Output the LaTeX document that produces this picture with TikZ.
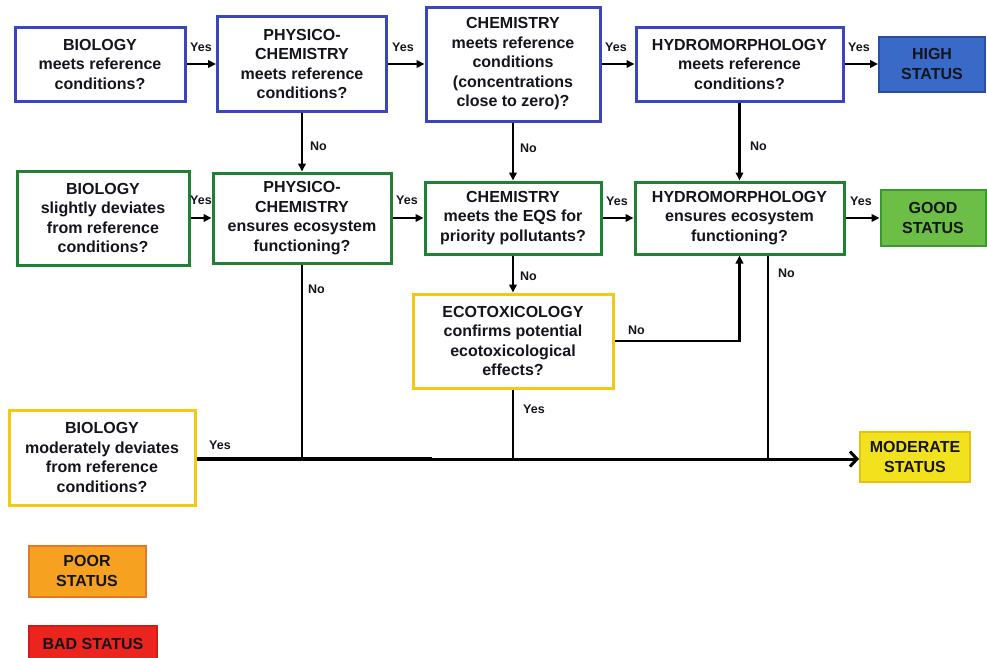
\documentclass[tikz,border=0pt]{standalone}
\usepackage{fontspec}
\setmainfont{Liberation Sans}
\usetikzlibrary{arrows.meta}

\definecolor{cblue}{RGB}{58,70,190}
\definecolor{cgreen}{RGB}{32,128,52}
\definecolor{cyellow}{RGB}{245,200,20}
\definecolor{highfill}{RGB}{58,106,200}
\definecolor{highline}{RGB}{40,78,168}
\definecolor{goodfill}{RGB}{108,190,70}
\definecolor{goodline}{RGB}{60,150,50}
\definecolor{modfill}{RGB}{242,226,30}
\definecolor{modline}{RGB}{232,192,20}
\definecolor{poorfill}{RGB}{246,162,32}
\definecolor{poorline}{RGB}{226,120,40}
\definecolor{badfill}{RGB}{236,36,30}
\definecolor{inkdark}{RGB}{20,20,28}

\begin{document}
\begin{tikzpicture}[x=1pt,y=-1pt,
  box/.style={draw, line width=3pt, fill=white, align=center, inner sep=0pt,
    text=inkdark, font=\bfseries\fontsize{16}{19.5}\selectfont},
  sz/.style 2 args={minimum width=#1pt, minimum height=#2pt},
  qblue/.style={box, draw=cblue},
  qgreen/.style={box, draw=cgreen},
  qyellow/.style={box, draw=cyellow},
  status/.style={box, line width=2pt},
  lab/.style={inner sep=0pt, anchor=west, text=inkdark,
    font=\bfseries\fontsize{12.5}{14}\selectfont},
  link/.style={line width=2.2pt, -{Triangle[length=8pt,width=7.5pt]}},
  wire/.style={line width=2.2pt},
  mainline/.style={line width=3pt, -{Straight Barb[length=7pt,width=15pt,line width=3pt]}}
]
\useasboundingbox (0,0) rectangle (987,657);

% --- first row: reference conditions (high status)
\node[qblue, sz={170}{74}]  (b1)  at (100,64)   {BIOLOGY\\meets reference\\conditions?};
\node[qblue, sz={169}{95}]  (pc1) at (302,64)   {PHYSICO-\\CHEMISTRY\\meets reference\\conditions?};
\node[qblue, sz={174}{114}] (ch1) at (513,64)   {CHEMISTRY\\meets reference\\conditions\\(concentrations\\close to zero)?};
\node[qblue, sz={207}{74}]  (hy1) at (739.5,64) {HYDROMORPHOLOGY\\meets reference\\conditions?};
\node[status, draw=highline, fill=highfill, sz={106}{55}] (high) at (932,64) {HIGH\\STATUS};

% --- second row: good status
\node[qgreen, sz={172}{94}]  (b2)  at (103,218)   {BIOLOGY\\slightly deviates\\from reference\\conditions?};
\node[qgreen, sz={178}{90}]  (pc2) at (302,218)   {PHYSICO-\\CHEMISTRY\\ensures ecosystem\\functioning?};
\node[qgreen, sz={176}{72}]  (ch2) at (513,218)   {CHEMISTRY\\meets the EQS for\\priority pollutants?};
\node[qgreen, sz={209}{72}]  (hy2) at (739.5,218) {HYDROMORPHOLOGY\\ensures ecosystem\\functioning?};
\node[status, draw=goodline, fill=goodfill, sz={105}{56}] (good) at (933,218) {GOOD\\STATUS};

% --- ecotoxicology check and moderate status
\node[qyellow, sz={200}{94}] (eco) at (513,341)  {ECOTOXICOLOGY\\confirms potential\\ecotoxicological\\effects?};
\node[qyellow, sz={186}{95}] (b3)  at (102,457.5) {BIOLOGY\\moderately deviates\\from reference\\conditions?};
\node[status, draw=modline, fill=modfill, sz={110}{50}] (mod) at (915,457) {MODERATE\\STATUS};

% --- remaining classes
\node[status, draw=poorline, fill=poorfill, sz={117}{51}] (poor) at (87,571) {POOR\\STATUS};
\node[status, draw=badfill!85!black, fill=badfill, sz={128}{36}, anchor=north west] (bad) at (28,625) {\raisebox{-1pt}{BAD STATUS}};

% --- junctions on the moderate-status line
\coordinate (j1) at (302,459);
\coordinate (j2) at (513,459);
\coordinate (j3) at (768,459);

% --- first row connectors
\draw[link] (b1) -- (pc1);
\draw[link] (pc1) -- (ch1);
\draw[link] (ch1) -- (hy1);
\draw[link] (hy1) -- (high);

% --- downward "No" connectors
\draw[link] (pc1.south) -- (pc2.north);
\draw[link] (ch1.south) -- (ch2.north);
\draw[link] (hy1.south) -- (hy2.north);

% --- second row connectors
\draw[link] (b2) -- (pc2);
\draw[link] (pc2) -- (ch2);
\draw[link] (ch2) -- (hy2);
\draw[link] (hy2) -- (good);

% --- ecotoxicology branch
\draw[link] (ch2.south) -- (eco.north);
\draw[link] (eco.east) -| (hy2.south);

% --- branches feeding the moderate-status line
\draw[wire] (pc2.south) -- (j1);
\draw[wire] (eco.south) -- (j2);
\draw[wire] (j3 |- hy2.south) -- (j3);
\draw[line width=3.8pt] (b3.east |- j1) -- (432,459);
\draw[mainline] (b3.east |- j1) -- (mod.west |- j1);

% --- branch labels
\node[lab] (l1)  at (190,47)  {Yes};
\node[lab] (l2)  at (392,47)  {Yes};
\node[lab] (l3)  at (605,47)  {Yes};
\node[lab] (l4)  at (848,47)  {Yes};
\node[lab] (l5)  at (310,146) {No};
\node[lab] (l6)  at (520,148) {No};
\node[lab] (l7)  at (750,146) {No};
\node[lab] (l8)  at (190,200) {Yes};
\node[lab] (l9)  at (396,200) {Yes};
\node[lab] (l10) at (606,201) {Yes};
\node[lab] (l11) at (850,201) {Yes};
\node[lab] (l12) at (520,276) {No};
\node[lab] (l13) at (778,273) {No};
\node[lab] (l14) at (308,289) {No};
\node[lab] (l15) at (628,330) {No};
\node[lab] (l16) at (523,409) {Yes};
\node[lab] (l17) at (209,445) {Yes};
\end{tikzpicture}
\end{document}
